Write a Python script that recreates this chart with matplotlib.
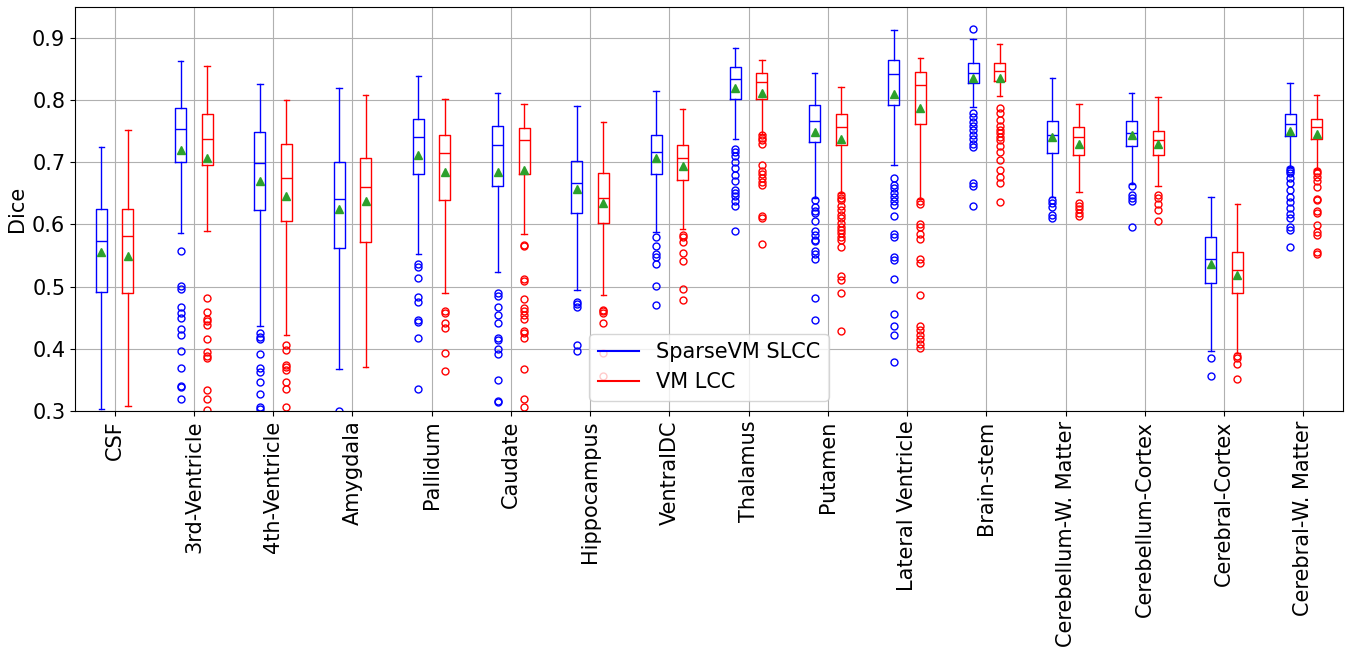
import matplotlib
matplotlib.use('Agg')
import matplotlib.pyplot as plt
from matplotlib.lines import Line2D

# Region names
regions = ['CSF', '3rd-Ventricle', '4th-Ventricle', 'Amygdala', 'Pallidum', 'Caudate',
           'Hippocampus', 'VentralDC', 'Thalamus', 'Putamen', 'Lateral Ventricle',
           'Brain-stem', 'Cerebellum-W. Matter', 'Cerebellum-Cortex', 'Cerebral-Cortex',
           'Cerebral-W. Matter']

# SparseVM SLCC box statistics
sp_lo = [0.304, 0.586, 0.436, 0.367, 0.552, 0.523, 0.494, 0.588, 0.737, 0.643, 0.695, 0.788, 0.644, 0.665, 0.397, 0.692]
sp_q1 = [0.491, 0.701, 0.623, 0.562, 0.681, 0.661, 0.619, 0.681, 0.802, 0.733, 0.792, 0.828, 0.715, 0.726, 0.505, 0.742]
sp_med = [0.573, 0.754, 0.699, 0.641, 0.741, 0.728, 0.666, 0.717, 0.834, 0.766, 0.841, 0.843, 0.744, 0.747, 0.544, 0.762]
sp_q3 = [0.625, 0.787, 0.749, 0.701, 0.769, 0.758, 0.702, 0.744, 0.853, 0.792, 0.865, 0.860, 0.767, 0.767, 0.579, 0.777]
sp_hi = [0.724, 0.862, 0.826, 0.819, 0.839, 0.812, 0.791, 0.815, 0.884, 0.843, 0.912, 0.898, 0.836, 0.811, 0.644, 0.827]
sp_mean = [0.556, 0.719, 0.669, 0.624, 0.712, 0.685, 0.657, 0.706, 0.819, 0.749, 0.809, 0.835, 0.740, 0.744, 0.537, 0.750]
sp_fliers = [
    [],
    [0.557, 0.501, 0.496, 0.467, 0.457, 0.450, 0.432, 0.423, 0.396, 0.369, 0.341, 0.339, 0.319],
    [0.425, 0.419, 0.415, 0.391, 0.369, 0.362, 0.347, 0.328, 0.306, 0.303],
    [0.300],
    [0.537, 0.532, 0.514, 0.484, 0.476, 0.446, 0.443, 0.417, 0.335],
    [0.489, 0.485, 0.467, 0.455, 0.442, 0.418, 0.414, 0.400, 0.391, 0.350, 0.316, 0.314],
    [0.476, 0.472, 0.468, 0.406, 0.396],
    [0.579, 0.566, 0.552, 0.548, 0.536, 0.501, 0.470],
    [0.722, 0.717, 0.710, 0.701, 0.690, 0.680, 0.669, 0.656, 0.651, 0.646, 0.637, 0.630, 0.590],
    [0.640, 0.628, 0.622, 0.619, 0.606, 0.589, 0.583, 0.575, 0.573, 0.558, 0.552, 0.545, 0.482, 0.446],
    [0.675, 0.664, 0.659, 0.651, 0.644, 0.637, 0.631, 0.614, 0.585, 0.580, 0.547, 0.542, 0.513,
     0.456, 0.437, 0.423, 0.379],
    [0.914, 0.779, 0.773, 0.765, 0.758, 0.752, 0.743, 0.737, 0.730, 0.724, 0.666, 0.661, 0.630],
    [0.639, 0.634, 0.628, 0.615, 0.610],
    [0.661, 0.647, 0.642, 0.637, 0.596],
    [0.385, 0.356],
    [0.689, 0.686, 0.682, 0.675, 0.667, 0.656, 0.644, 0.636, 0.627, 0.616, 0.610, 0.596, 0.591, 0.564],
]

# VM LCC box statistics
vm_lo = [0.308, 0.589, 0.422, 0.370, 0.489, 0.584, 0.487, 0.592, 0.745, 0.651, 0.641, 0.806, 0.652, 0.662, 0.394, 0.689]
vm_q1 = [0.490, 0.695, 0.605, 0.572, 0.640, 0.681, 0.603, 0.672, 0.802, 0.727, 0.762, 0.830, 0.711, 0.712, 0.490, 0.737]
vm_med = [0.581, 0.737, 0.675, 0.660, 0.715, 0.736, 0.643, 0.706, 0.829, 0.757, 0.824, 0.846, 0.740, 0.736, 0.526, 0.757]
vm_q3 = [0.625, 0.778, 0.730, 0.707, 0.744, 0.755, 0.682, 0.728, 0.843, 0.777, 0.845, 0.859, 0.757, 0.750, 0.556, 0.770]
vm_hi = [0.752, 0.855, 0.800, 0.808, 0.802, 0.794, 0.764, 0.785, 0.865, 0.821, 0.868, 0.890, 0.794, 0.805, 0.633, 0.808]
vm_mean = [0.550, 0.706, 0.645, 0.637, 0.685, 0.687, 0.634, 0.694, 0.812, 0.738, 0.787, 0.835, 0.730, 0.729, 0.519, 0.745]
vm_fliers = [
    [],
    [0.481, 0.459, 0.448, 0.444, 0.439, 0.416, 0.395, 0.388, 0.386, 0.334, 0.320, 0.302],
    [0.406, 0.398, 0.374, 0.370, 0.366, 0.346, 0.335, 0.306],
    [],
    [0.461, 0.457, 0.441, 0.434, 0.393, 0.365],
    [0.567, 0.566, 0.512, 0.509, 0.480, 0.465, 0.460, 0.454, 0.448, 0.429, 0.425, 0.418, 0.367, 0.319, 0.307],
    [0.463, 0.460, 0.457, 0.442, 0.393, 0.357],
    [0.583, 0.579, 0.571, 0.554, 0.541, 0.496, 0.478],
    [0.743, 0.739, 0.735, 0.730, 0.696, 0.686, 0.681, 0.674, 0.668, 0.663, 0.614, 0.610, 0.569],
    [0.648, 0.643, 0.639, 0.629, 0.623, 0.615, 0.610, 0.602, 0.596, 0.591, 0.586, 0.580, 0.575,
     0.564, 0.517, 0.511, 0.489, 0.428],
    [0.638, 0.633, 0.601, 0.596, 0.584, 0.576, 0.544, 0.538, 0.487, 0.437, 0.431, 0.423, 0.415, 0.408, 0.401],
    [0.787, 0.779, 0.768, 0.758, 0.752, 0.747, 0.741, 0.735, 0.726, 0.717, 0.703, 0.688, 0.677, 0.666, 0.636],
    [0.635, 0.629, 0.624, 0.619, 0.613],
    [0.647, 0.642, 0.633, 0.623, 0.606],
    [0.388, 0.386, 0.375, 0.351],
    [0.686, 0.682, 0.677, 0.669, 0.660, 0.641, 0.639, 0.621, 0.618, 0.599, 0.587, 0.583, 0.556, 0.553],
]


def make_stats(lo, q1, med, q3, hi, mean, fliers):
    return [dict(whislo=lo[i], q1=q1[i], med=med[i], q3=q3[i], whishi=hi[i],
                 mean=mean[i], fliers=fliers[i]) for i in range(len(lo))]


sp_stats = make_stats(sp_lo, sp_q1, sp_med, sp_q3, sp_hi, sp_mean, sp_fliers)
vm_stats = make_stats(vm_lo, vm_q1, vm_med, vm_q3, vm_hi, vm_mean, vm_fliers)

plt.rcParams['font.size'] = 15

fig, ax = plt.subplots(figsize=(13.45, 6.49), dpi=100)
fig.subplots_adjust(left=0.0558, right=0.9985, top=0.9897, bottom=0.3667)

ticks = list(range(1, len(regions) + 1))
offset = 0.167
width = 0.14


def draw(stats, pos, color):
    ax.bxp(stats, positions=pos, widths=width, showmeans=True, manage_ticks=False,
           boxprops=dict(color=color),
           whiskerprops=dict(color=color),
           capprops=dict(color=color),
           medianprops=dict(color=color),
           flierprops=dict(marker='o', markeredgecolor=color, markerfacecolor='none', markersize=5),
           meanprops=dict(marker='^', markerfacecolor='tab:green', markeredgecolor='tab:green', markersize=6))


draw(sp_stats, [t - offset for t in ticks], 'blue')
draw(vm_stats, [t + offset for t in ticks], 'red')

ax.set_xticks(ticks)
ax.set_xticklabels(regions, rotation=90)
ax.set_xlim(0.5, 16.5)
ax.set_ylim(0.3, 0.95)
ax.set_ylabel('Dice')
ax.grid(True)

handles = [Line2D([], [], color='blue'), Line2D([], [], color='red')]
ax.legend(handles, ['SparseVM SLCC', 'VM LCC'], loc='lower center',
          bbox_to_anchor=(0.5, 0.0))

fig.savefig('out.png')
